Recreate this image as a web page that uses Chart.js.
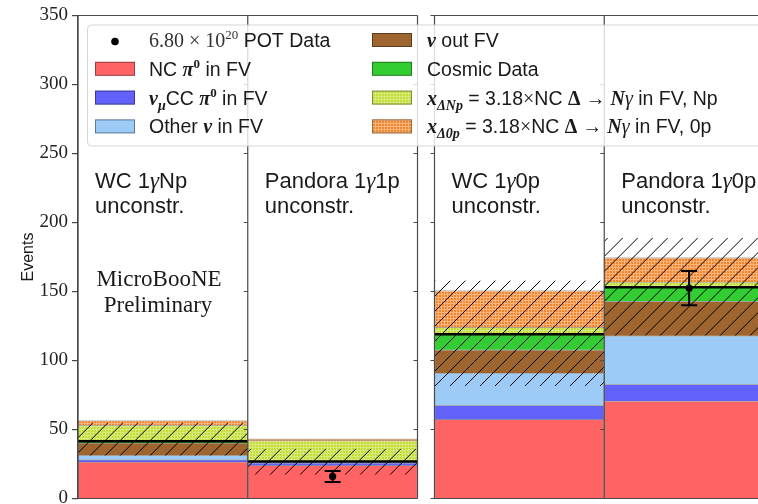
<!DOCTYPE html>
<html><head><meta charset="utf-8">
<script src="https://cdn.jsdelivr.net/npm/chart.js@4.4.1/dist/chart.umd.min.js"></script>
<style>
html,body{margin:0;padding:0;overflow:hidden;background:#fff;width:758px;height:504px}
#wrap{position:absolute;left:0;top:0;width:800px;height:540px}
</style></head><body>
<div id="wrap"><canvas id="c" width="800" height="540"></canvas></div>
<script>
// ---------------- data ----------------
const categories = ['WC 1γNp', 'Pandora 1γ1p', 'WC 1γ0p', 'Pandora 1γ0p'];
const subLabel = 'unconstr.';
const ncPi0   = [26.5, 24.0, 57.3, 70.6];
const ccPi0   = [1.7, 1.8, 10.2, 12.1];
const otherNu = [3.1, 0.5, 23.3, 35.2];
const outFV   = [9.0, 0.4, 16.9, 25.0];
const cosmic  = [1.2, 0.2, 11.4, 10.2];
const deltaNp = [11.6, 15.1, 4.9, 3.7];
const delta0p = [3.4, 1.2, 26.7, 17.7];
const bandLow  = [31.0, 17.2, 81.5, 118.0];
const bandHigh = [55.0, 36.0, 158.0, 188.8];
const dataVals = [null, 16.0, null, 152.4];
const dataErrs = [null, 4.0, null, 12.4];
const yTicks = [0, 50, 100, 150, 200, 250, 300, 350];

// ---------------- style ----------------
const SANS = '"Liberation Sans", Arial, sans-serif';
const SERIF = '"Liberation Serif", "DejaVu Serif", serif';
const GAP = 0.1;
const xPos = i => i + 0.5 + (i >= 2 ? GAP : 0);
const xMax = categories.length + GAP;

function gridPattern(base, line) {
  const c = document.createElement('canvas');
  c.width = 3; c.height = 3;
  const g = c.getContext('2d');
  g.fillStyle = base; g.fillRect(0, 0, 3, 3);
  g.fillStyle = line; g.fillRect(0, 0, 3, 1); g.fillRect(0, 1, 1, 2);
  return g.createPattern(c, 'repeat');
}
const patNp = gridPattern('#c4de36', 'rgba(255,255,255,0.35)');
const pat0p = gridPattern('#f2862c', 'rgba(255,255,255,0.38)');

const stackDefs = [
  {label: 'NC π0 in FV', data: ncPi0, color: '#ff6363'},
  {label: 'νμCC π0 in FV', data: ccPi0, color: '#6262fa'},
  {label: 'Other ν in FV', data: otherNu, color: '#9ccbf8'},
  {label: 'ν out FV', data: outFV, color: '#9e652f'},
  {label: 'Cosmic Data', data: cosmic, color: '#33cc33'},
  {label: 'x ΔNp', data: deltaNp, color: patNp},
  {label: 'x Δ0p', data: delta0p, color: pat0p},
];

const datasets = stackDefs.map(d => ({
  type: 'bar',
  label: d.label,
  data: d.data.map((v, i) => ({x: xPos(i), y: v})),
  backgroundColor: d.color,
  borderColor: 'rgba(0,0,0,0.3)',
  borderWidth: 1,
  categoryPercentage: 1,
  barPercentage: 1,
}));
datasets.push({
  type: 'line',
  label: 'Data',
  data: dataVals.map((v, i) => v == null ? null : ({x: xPos(i), y: v})).filter(Boolean),
  showLine: false,
  pointRadius: 3.6,
  pointBackgroundColor: '#000',
  pointBorderColor: '#000',
  pointBorderWidth: 0,
  order: -1,
});

function barGeom(chart, i) {
  const el = chart.getDatasetMeta(0).data[i];
  return {l: el.x - el.width / 2, r: el.x + el.width / 2, c: el.x};
}
function runs(ctx, x, y, parts) {
  for (const p of parts) {
    ctx.font = p.f;
    ctx.fillText(p.t, x, y + (p.dy || 0));
    x += ctx.measureText(p.t).width;
  }
  return x;
}

const overlay = {
  id: 'overlay',
  beforeDatasetDraw(chart, args) {
    if (args.meta.type !== 'line') return;
    const ctx = chart.ctx, y = chart.scales.y;
    for (let i = 0; i < categories.length; i++) {
      const {l, r} = barGeom(chart, i);
      const yl = y.getPixelForValue(bandLow[i]), yh = y.getPixelForValue(bandHigh[i]);
      const h = yl - yh, sp = 15;
      ctx.save();
      ctx.beginPath(); ctx.rect(l, yh, r - l, h); ctx.clip();
      ctx.strokeStyle = '#000'; ctx.lineWidth = 1;
      ctx.beginPath();
      for (let k = Math.floor((l - h) / sp) * sp; k < r; k += sp) {
        ctx.moveTo(k, yl); ctx.lineTo(k + h, yh);
      }
      ctx.stroke();
      ctx.restore();
      const total = ncPi0[i] + ccPi0[i] + otherNu[i] + outFV[i] + cosmic[i];
      const bt = y.getPixelForValue(total);
      ctx.save();
      ctx.strokeStyle = '#000'; ctx.lineWidth = 2.5;
      ctx.beginPath(); ctx.moveTo(l, bt); ctx.lineTo(r, bt); ctx.stroke();
      ctx.restore();
    }
  },
  afterDatasetsDraw(chart) {
    const ctx = chart.ctx, y = chart.scales.y, x = chart.scales.x;
    const area = chart.chartArea;
    // error bars
    ctx.save();
    ctx.strokeStyle = '#000'; ctx.lineWidth = 2;
    dataVals.forEach((v, i) => {
      if (v == null) return;
      const px = x.getPixelForValue(xPos(i));
      const y0 = y.getPixelForValue(v - dataErrs[i]), y1 = y.getPixelForValue(v + dataErrs[i]);
      ctx.beginPath();
      ctx.moveTo(px, y0); ctx.lineTo(px, y1);
      ctx.moveTo(px - 8, y0); ctx.lineTo(px + 8, y0);
      ctx.moveTo(px - 8, y1); ctx.lineTo(px + 8, y1);
      ctx.stroke();
    });
    ctx.restore();
    // panel spines
    const b1 = barGeom(chart, 1), b2 = barGeom(chart, 2), b3 = barGeom(chart, 3);
    ctx.save();
    ctx.strokeStyle = '#4a4a4a'; ctx.lineWidth = 1.2;
    ctx.beginPath();
    ctx.moveTo(area.left, area.top); ctx.lineTo(b1.r, area.top);
    ctx.moveTo(area.left, area.bottom); ctx.lineTo(b1.r, area.bottom);
    ctx.moveTo(b2.l, area.top); ctx.lineTo(area.right, area.top);
    ctx.moveTo(b2.l, area.bottom); ctx.lineTo(area.right, area.bottom);
    for (const sx of [area.left, b1.l, b1.r, b2.l, b3.l]) {
      ctx.moveTo(sx, area.top); ctx.lineTo(sx, area.bottom);
    }
    for (const sx of [b1.l, b1.r, b2.l, b3.l]) {
      for (const t of yTicks) {
        const ty = y.getPixelForValue(t);
        ctx.moveTo(sx - 4, ty); ctx.lineTo(sx, ty);
      }
    }
    ctx.stroke();
    ctx.restore();
  },
  afterDraw(chart) {
    const ctx = chart.ctx, area = chart.chartArea;
    ctx.save();
    ctx.textBaseline = 'alphabetic';
    ctx.fillStyle = '#1a1a1a';
    // panel titles
    const S2 = `22px ${SANS}`, G2 = `italic 23px ${SERIF}`;
    categories.forEach((name, i) => {
      const {l} = barGeom(chart, i);
      const parts = [];
      name.split('γ').forEach((seg, k) => {
        if (k > 0) parts.push({t: 'γ', f: G2});
        parts.push({t: seg, f: S2});
      });
      runs(ctx, l + 17, area.top + 172.5, parts);
      runs(ctx, l + 17, area.top + 197, [{t: subLabel, f: S2}]);
    });
    // preliminary
    const b0 = barGeom(chart, 0);
    ctx.font = `23px ${SERIF}`;
    ctx.textAlign = 'center';
    ctx.fillText('MicroBooNE', b0.l + 81, area.top + 270.5);
    ctx.fillText('Preliminary', b0.l + 80, area.top + 296);
    ctx.textAlign = 'left';

    // legend
    const lx = area.left + 9.5, ly = 25, lw = 720, lh = 121;
    ctx.beginPath();
    ctx.roundRect(lx, ly, lw, lh, 4);
    ctx.fillStyle = 'rgba(255,255,255,0.8)';
    ctx.fill();
    ctx.strokeStyle = 'rgba(204,204,204,0.8)'; ctx.lineWidth = 1;
    ctx.stroke();

    const S = `19.5px ${SANS}`, MR = `20px ${SERIF}`, BI = `bold italic 20px ${SERIF}`,
          MI = `italic 20px ${SERIF}`, B = `bold 20px ${SERIF}`,
          SUP = `13px ${SERIF}`, BSUP = `bold 13px ${SERIF}`, BSUB = `bold italic 14px ${SERIF}`;
    const rowY = k => 40 + 28.8 * k;
    const col1 = {px: lx + 7.5, tx: lx + 61.5};
    const col2 = {px: lx + 284.5, tx: lx + 339.5};
    const entries = [
      {col: col1, row: 0, marker: 'dot', parts: [{t: '6.80 × 10', f: MR, c: '#333'}, {t: '20', f: SUP, dy: -8, c: '#333'}, {t: ' POT Data', f: S}]},
      {col: col1, row: 1, ds: 0, parts: [{t: 'NC ', f: S}, {t: 'π', f: BI}, {t: '0', f: BSUP, dy: -8}, {t: ' in FV', f: S}]},
      {col: col1, row: 2, ds: 1, parts: [{t: 'ν', f: BI}, {t: 'μ', f: BSUB, dy: 5}, {t: 'CC ', f: S}, {t: 'π', f: BI}, {t: '0', f: BSUP, dy: -8}, {t: ' in FV', f: S}]},
      {col: col1, row: 3, ds: 2, parts: [{t: 'Other ', f: S}, {t: 'ν', f: BI}, {t: ' in FV', f: S}]},
      {col: col2, row: 0, ds: 3, parts: [{t: 'ν', f: BI}, {t: ' out FV', f: S}]},
      {col: col2, row: 1, ds: 4, parts: [{t: 'Cosmic Data', f: S}]},
      {col: col2, row: 2, ds: 5, parts: [{t: 'x', f: BI}, {t: 'ΔNp', f: BSUB, dy: 5}, {t: ' = 3.18', f: S}, {t: '×', f: MR}, {t: 'NC ', f: S}, {t: 'Δ', f: B}, {t: ' → ', f: MR}, {t: 'N', f: BI}, {t: 'γ', f: MI}, {t: ' in FV, Np', f: S}]},
      {col: col2, row: 3, ds: 6, parts: [{t: 'x', f: BI}, {t: 'Δ0p', f: BSUB, dy: 5}, {t: ' = 3.18', f: S}, {t: '×', f: MR}, {t: 'NC ', f: S}, {t: 'Δ', f: B}, {t: ' → ', f: MR}, {t: 'N', f: BI}, {t: 'γ', f: MI}, {t: ' in FV, 0p', f: S}]},
    ];
    for (const e of entries) {
      const cy = rowY(e.row);
      if (e.marker === 'dot') {
        ctx.beginPath(); ctx.arc(e.col.px + 20, cy + 1.5, 3.8, 0, Math.PI * 2);
        ctx.fillStyle = '#000'; ctx.fill();
      } else {
        ctx.fillStyle = chart.data.datasets[e.ds].backgroundColor;
        ctx.fillRect(e.col.px, cy - 7, 40, 14);
        ctx.strokeStyle = 'rgba(0,0,0,0.4)'; ctx.lineWidth = 1;
        ctx.strokeRect(e.col.px + 0.5, cy - 6.5, 39, 13);
      }
      let x = e.col.tx;
      for (const p of e.parts) {
        ctx.font = p.f;
        ctx.fillStyle = p.c || '#1a1a1a';
        ctx.fillText(p.t, x, cy + 7 + (p.dy || 0));
        x += ctx.measureText(p.t).width;
      }
    }
    ctx.restore();
  }
};

new Chart(document.getElementById('c'), {
  type: 'bar',
  data: {datasets},
  options: {
    responsive: false,
    animation: false,
    layout: {padding: {left: 0, top: 15.5, right: 26, bottom: 41.5}},
    plugins: {legend: {display: false}, tooltip: {enabled: false}},
    scales: {
      x: {
        type: 'linear', min: 0, max: xMax, stacked: true, display: false, offset: false,
        grid: {offset: false},
        afterBuildTicks: s => { s.ticks = [{value: 0}, {value: xMax}]; },
      },
      y: {
        min: 0, max: 350, stacked: true,
        afterBuildTicks: s => { s.ticks = yTicks.map(v => ({value: v})); },
        afterFit: s => { s.width = 78; },
        ticks: {font: {family: SERIF, size: 19}, color: '#222', padding: 4},
        grid: {drawOnChartArea: false, drawTicks: true, tickLength: 6, color: '#444', lineWidth: 1.2},
        border: {display: true, color: '#444', width: 1.2},
        title: {display: true, text: 'Events', font: {family: SANS, size: 16}, color: '#1a1a1a', padding: {top: 18.5, bottom: 0}},
      }
    }
  },
  plugins: [overlay]
});
</script>
</body></html>
